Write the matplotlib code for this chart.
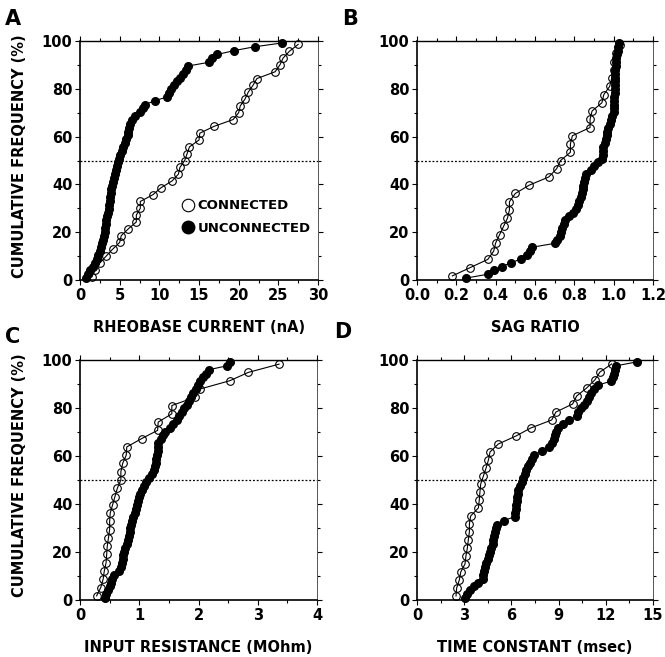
import numpy as np
import matplotlib
matplotlib.use('Agg')
import matplotlib.pyplot as plt
from matplotlib.lines import Line2D
from matplotlib.ticker import MultipleLocator

plt.rcParams['font.family'] = 'DejaVu Sans'
plt.rcParams['font.weight'] = 'bold'

# sorted values per cell group (cumulative frequency = rank / n)
rheo_conn = [1.5, 1.9, 2.5, 3.3, 4.1, 5.0, 5.2, 6.1, 7.1, 7.1, 7.6, 7.6, 9.2, 10.2, 11.6,
             12.4, 12.6, 13.2, 13.5, 13.8, 15.0, 15.1, 16.9, 19.3, 20.0, 20.2, 20.8, 21.2,
             21.8, 22.3, 24.6, 25.2, 25.6, 26.4, 27.5]
rheo_unconn = [0.8, 0.95, 1.3, 1.6, 1.9, 2.1, 2.3, 2.5, 2.65, 2.8, 2.9, 3.0, 3.1, 3.2, 3.25,
               3.3, 3.4, 3.5, 3.6, 3.7, 3.8, 3.82, 3.86, 3.9, 4.05, 4.2, 4.3, 4.45, 4.6, 4.7,
               4.85, 4.95, 5.1, 5.25, 5.4, 5.7, 5.85, 6.0, 6.1, 6.15, 6.25, 6.5, 6.9, 7.6, 8.0,
               8.2, 9.4, 11.0, 11.2, 11.5, 11.9, 12.2, 12.6, 13.0, 13.3, 13.6, 16.3, 16.7, 17.3,
               19.4, 22.0, 25.5]

sag_conn = [0.18, 0.27, 0.36, 0.39, 0.40, 0.42, 0.44, 0.46, 0.47, 0.47, 0.50, 0.57, 0.67,
            0.71, 0.73, 0.78, 0.78, 0.79, 0.88, 0.88, 0.89, 0.94, 0.95, 0.98, 0.99, 1.00,
            1.00, 1.01, 1.03]
sag_unconn = [0.25, 0.36, 0.39, 0.43, 0.48, 0.53, 0.56, 0.575, 0.585, 0.70, 0.71, 0.725,
              0.73, 0.735, 0.745, 0.755, 0.775, 0.795, 0.81, 0.82, 0.826, 0.832, 0.838, 0.843,
              0.846, 0.849, 0.852, 0.86, 0.885, 0.90, 0.92, 0.943, 0.945, 0.946, 0.947, 0.955,
              0.96, 0.965, 0.968, 0.972, 0.98, 0.985, 0.99, 1.0, 1.0, 1.002, 1.003, 1.004,
              1.005, 1.005, 1.006, 1.007, 1.008, 1.008, 1.009, 1.01, 1.011, 1.013, 1.015,
              1.02, 1.022, 1.025]

rin_conn = [0.28, 0.35, 0.39, 0.41, 0.44, 0.45, 0.46, 0.48, 0.50, 0.50, 0.51, 0.55, 0.59,
            0.63, 0.69, 0.69, 0.72, 0.78, 0.79, 1.04, 1.31, 1.32, 1.55, 1.55, 1.94, 2.03,
            2.53, 2.84, 3.36]
rin_unconn = [0.42, 0.44, 0.47, 0.50, 0.52, 0.54, 0.58, 0.65, 0.70, 0.71, 0.72, 0.73, 0.74,
              0.76, 0.79, 0.81, 0.83, 0.84, 0.85, 0.86, 0.87, 0.89, 0.93, 0.95, 0.96, 0.98,
              1.0, 1.02, 1.04, 1.08, 1.12, 1.17, 1.22, 1.25, 1.27, 1.28, 1.29, 1.30, 1.31,
              1.315, 1.32, 1.36, 1.40, 1.44, 1.52, 1.57, 1.63, 1.67, 1.72, 1.76, 1.80, 1.84,
              1.88, 1.91, 1.95, 1.99, 2.03, 2.07, 2.12, 2.18, 2.48, 2.53]

tau_conn = [2.48, 2.52, 2.69, 2.78, 3.05, 3.11, 3.2, 3.26, 3.33, 3.33, 3.41, 3.9, 3.96, 4.0,
            4.05, 4.22, 4.39, 4.54, 4.64, 5.17, 6.29, 7.23, 8.56, 8.83, 9.89, 10.15, 10.78,
            11.3, 11.63, 12.37]
tau_unconn = [3.05, 3.15, 3.35, 3.6, 3.9, 4.18, 4.21, 4.26, 4.33, 4.41, 4.49, 4.56, 4.65,
              4.73, 4.8, 4.85, 4.9, 4.96, 5.02, 5.09, 5.5, 6.2, 6.25, 6.28, 6.3, 6.33, 6.36,
              6.39, 6.45, 6.56, 6.67, 6.76, 6.85, 6.94, 7.05, 7.2, 7.33, 7.46, 7.95, 8.4,
              8.58, 8.7, 8.77, 8.86, 8.97, 9.3, 9.68, 10.15, 10.25, 10.4, 10.6, 10.8, 10.92,
              11.05, 11.25, 11.5, 12.3, 12.45, 12.52, 12.57, 12.65, 13.96]

panel_letters = ['A', 'B', 'C', 'D']
x_labels = ['RHEOBASE CURRENT (nA)', 'SAG RATIO', 'INPUT RESISTANCE (MOhm)', 'TIME CONSTANT (msec)']
x_limits = [(0, 30), (0, 1.2), (0, 4), (0, 15)]
x_major = [5, 0.2, 1, 3]
x_minor = [2.5, 0.1, 0.5, 1.5]


def cum_freq(vals):
    n = len(vals)
    return (np.arange(n) + 0.5) / n * 100.0


fig = plt.figure(figsize=(6.65, 6.57), dpi=100)
W, H = 665.0, 657.0
boxes = [(80, 41, 238, 239), (417, 41, 236, 239), (80, 360, 237, 240), (417, 360, 236, 240)]
letter_pos = [(5, 19), (342, 19), (5, 337), (334, 332)]
datasets = [(rheo_conn, rheo_unconn), (sag_conn, sag_unconn),
            (rin_conn, rin_unconn), (tau_conn, tau_unconn)]

for k in range(4):
    x0, y0, w, h = boxes[k]
    ax = fig.add_axes([x0 / W, 1 - (y0 + h) / H, w / W, h / H])
    conn, unconn = datasets[k]

    ax.axhline(50, color='black', ls=(0, (1.5, 1.5)), lw=0.9, zorder=1)
    ax.plot(unconn, cum_freq(unconn), '-o', color='black', lw=0.8, ms=5.5,
            mfc='black', mec='black', clip_on=False, zorder=3)
    ax.plot(conn, cum_freq(conn), '-o', color='black', lw=0.8, ms=5.5,
            mfc='none', mec='black', mew=0.8, clip_on=False, zorder=4)

    ax.set_xlim(*x_limits[k])
    ax.set_ylim(0, 100)
    ax.xaxis.set_major_locator(MultipleLocator(x_major[k]))
    ax.xaxis.set_minor_locator(MultipleLocator(x_minor[k]))
    ax.yaxis.set_major_locator(MultipleLocator(20))
    ax.yaxis.set_minor_locator(MultipleLocator(10))
    if k == 1:
        ax.set_xticklabels(['%.1f' % v for v in ax.get_xticks()])
    ax.tick_params(which='both', direction='out', top=True, right=True,
                   labelsize=10.5, width=0.8)
    ax.tick_params(which='major', length=3.5, pad=2)
    ax.tick_params(which='minor', length=2)
    for lab in ax.get_xticklabels() + ax.get_yticklabels():
        lab.set_fontweight('bold')

    ax.spines['left'].set_linewidth(1.2)
    ax.spines['bottom'].set_linewidth(1.2)
    ax.spines['top'].set_linewidth(1.0)
    ax.spines['right'].set_linewidth(0.7)
    ax.spines['right'].set_color('#555555')

    ax.set_xlabel(x_labels[k], fontsize=10.5, fontweight='bold', va='center')
    ax.xaxis.set_label_coords(0.5, -48.0 / h)
    if k in (0, 2):
        ax.set_ylabel('CUMULATIVE FREQUENCY (%)', fontsize=10.5, fontweight='bold', va='center')
        ax.yaxis.set_label_coords(-60.0 / w, 0.52)

    lx, ly = letter_pos[k]
    fig.text(lx / W, 1 - ly / H, panel_letters[k], fontsize=15, fontweight='bold',
             ha='left', va='center')

    if k == 0:
        handles = [Line2D([], [], ls='none', marker='o', ms=9, mfc='none', mec='black', mew=0.8),
                   Line2D([], [], ls='none', marker='o', ms=9, mfc='black', mec='black')]
        ax.legend(handles, ['CONNECTED', 'UNCONNECTED'], loc='upper left',
                  bbox_to_anchor=(0.405, 0.365), frameon=False, handlelength=0.8,
                  handletextpad=0.3, borderpad=0, labelspacing=0.7,
                  prop={'size': 9.5, 'weight': 'bold'})

fig.savefig('out.png', dpi=100)
